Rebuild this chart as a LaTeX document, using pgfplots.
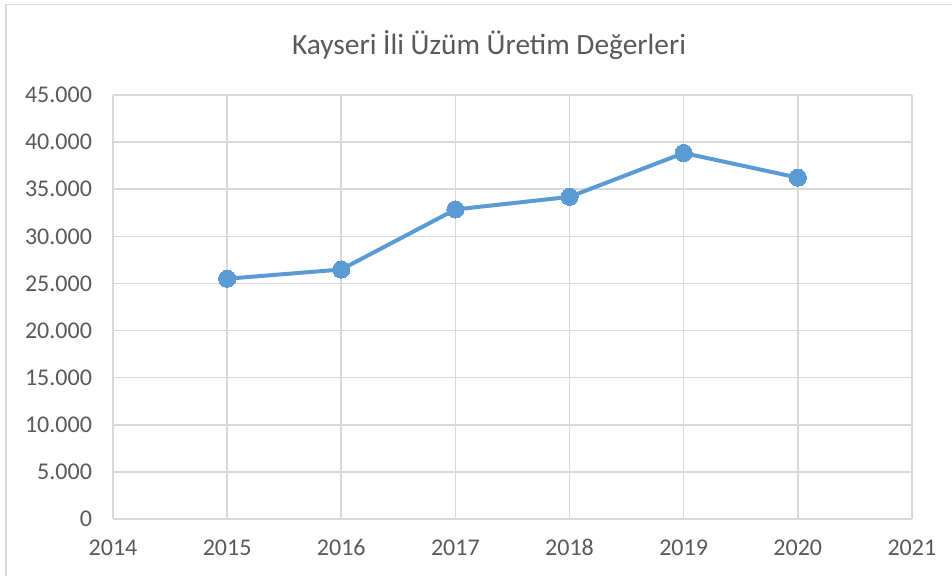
\documentclass[border=0pt]{standalone}
\usepackage{pgfplots}
\pgfplotsset{compat=1.18}
\usepackage{fontspec}
\setmainfont{Carlito}
\definecolor{txt}{HTML}{595959}
\definecolor{gridc}{HTML}{D9D9D9}
\definecolor{ser}{HTML}{5B9BD5}
\begin{document}
\begin{tikzpicture}[x=1pt,y=1pt]
\path[use as bounding box] (0,0) rectangle (476,288);
\draw[gridc, line width=0.75pt] (2.9,0) -- (2.9,285.8) -- (476,285.8);
\node[txt, font=\fontsize{14.7}{17}\selectfont] at (244.5,265.5) {Kayseri İli Üzüm Üretim Değerleri};
\begin{axis}[
  at={(56.5pt,28.5pt)}, anchor=south west,
  scale only axis, width=399.5pt, height=212pt,
  xmin=2014, xmax=2021, ymin=0, ymax=45000,
  xtick={2014,...,2021},
  ytick={0,5000,...,45000},
  grid=major,
  major grid style={gridc, line width=0.8pt},
  axis line style={draw=none},
  tick style={draw=none},
  /pgf/number format/assume math mode=true,
  ticklabel style={txt, font=\fontsize{12}{14}\selectfont},
  scaled y ticks=false,
  yticklabel style={xshift=-7pt, /pgf/number format/fixed, /pgf/number format/1000 sep={.}},
  xticklabel style={anchor=base, yshift=-18.5pt, /pgf/number format/1000 sep={}},
  clip=false,
]
\addplot[ser, line width=2pt, mark=*, mark size=4.3pt, mark options={fill=ser, draw=ser, line width=0pt}]
coordinates {
(2015,25500)
(2016,26480)
(2017,32850)
(2018,34190)
(2019,38840)
(2020,36230)
};
\end{axis}
\end{tikzpicture}
\end{document}
